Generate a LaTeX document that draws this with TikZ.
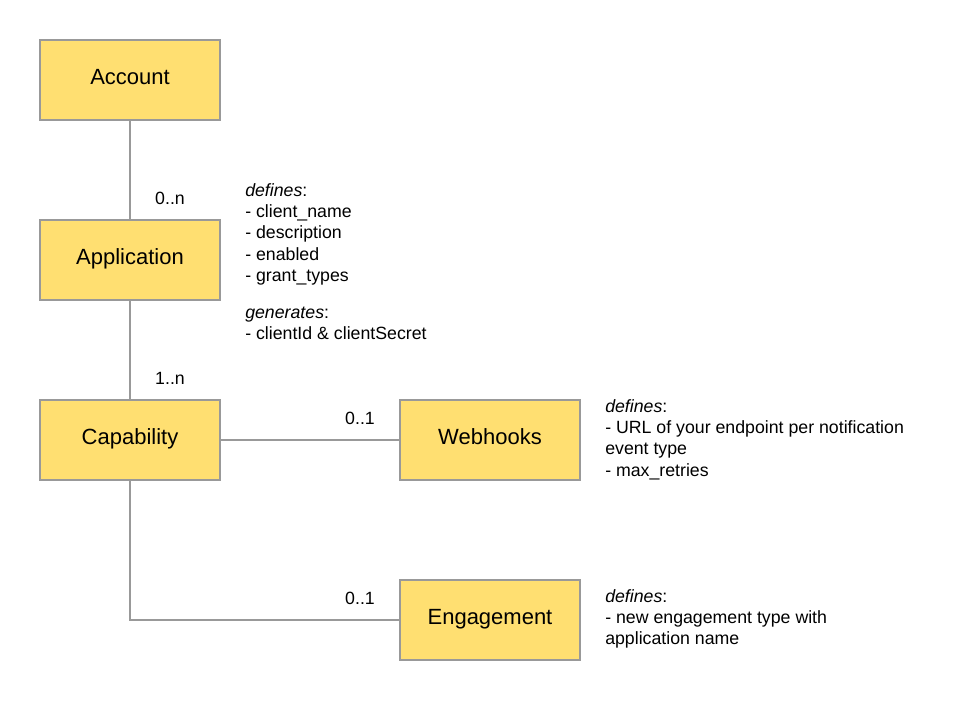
\documentclass[tikz,border=0pt]{standalone}
\usepackage{fontspec}
\setmainfont{Liberation Sans}
\definecolor{boxfill}{HTML}{FFDF71}
\definecolor{boxline}{HTML}{999999}
\tikzset{
    entity/.style={draw=boxline, fill=boxfill, line width=1.5pt,
        minimum width=135pt, minimum height=60pt, inner sep=0pt,
        text height=12pt, text depth=5.6pt,
        font=\fontsize{16.5}{20}\selectfont},
    link/.style={draw=boxline, line width=1.5pt},
    mult/.style={inner sep=0pt, font=\fontsize{13.3}{16}\selectfont},
    note/.style={anchor=north west, align=left, inner sep=0pt,
        font=\fontsize{13.3}{16}\selectfont},
}
\begin{document}
\begin{tikzpicture}[x=0.75pt, y=-0.75pt]
    \useasboundingbox (0,0) rectangle (960,700);
    \node[entity] (account) at (130,80) {Account};
    \node[entity] (application) at (130,260) {Application};
    \node[entity] (capability) at (130,440) {Capability};
    \node[entity] (webhooks) at (490,440) {Webhooks};
    \node[entity] (engagement) at (490,620) {Engagement};
    \draw[link] (account) -- (application);
    \draw[link] (application) -- (capability);
    \draw[link] (capability) -- (webhooks);
    \draw[link] (capability) |- (engagement);
    \node[mult] (appmult) at (170,198) {0..n};
    \node[mult] (capmult) at (170,378) {1..n};
    \node[mult] (webmult) at (360,418) {0..1};
    \node[mult] (engmult) at (360,598) {0..1};
    \node[note] (appnote) at (245,183) {\textit{defines}:\\- client\_name\\- description\\- enabled\\- grant\_types\\[11.5pt]\textit{generates}:\\- clientId \& clientSecret};
    \node[note] (webnote) at (605,399) {\textit{defines}:\\- URL of your endpoint per notification\\event type\\- max\_retries};
    \node[note] (engnote) at (605,589) {\textit{defines}:\\- new engagement type with\\application name};
\end{tikzpicture}
\end{document}
